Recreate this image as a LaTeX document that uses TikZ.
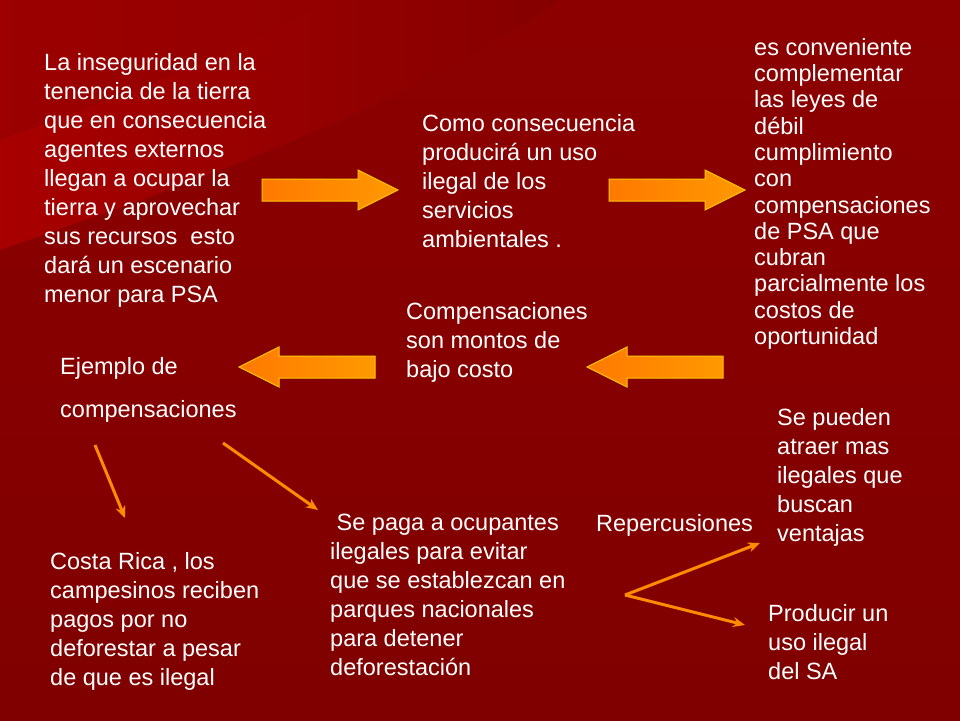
\documentclass[tikz,border=0pt]{standalone}
\usepackage{fontspec}
\setmainfont{Liberation Sans}
\usetikzlibrary{arrows.meta}
\begin{document}
\begin{tikzpicture}[x=1pt,y=-1pt,
  txt/.style={anchor=north west,inner sep=0pt,align=left,text=white,font=\fontsize{23.5}{29}\selectfont},
  blk/.style={draw=yellow!60!orange,line width=1pt,left color=orange!95!red,right color=orange!80!yellow},
  thin/.style={draw=orange!90!yellow,line width=3pt,-{Stealth[length=12pt,width=10pt]}}]
\useasboundingbox (0,0) rectangle (960,720);
\shade[top color=red!55!black,bottom color=red!50!black] (0,0) rectangle (960,720);
\shade[left color=red!66!black,right color=red!52!black] (0,0) -- (560,0) .. controls (400,110) and (200,180) .. (0,250) -- cycle;
\fill[red!58!black,opacity=0.6] (0,0) -- (330,0) .. controls (220,60) and (110,100) .. (0,140) -- cycle;

\node[txt] (t1) at (44,53) {La inseguridad en la\\tenencia de la tierra\\que en consecuencia\\agentes externos\\llegan a ocupar la\\tierra y aprovechar\\sus recursos\ \ esto\\dará un escenario\\menor para PSA};
\node[txt] (t2) at (422,114) {Como consecuencia\\producirá un uso\\ilegal de los\\servicios\\ambientales .};
\node[txt,font=\fontsize{23.5}{26.3}\selectfont] (t3) at (754,38) {es conveniente\\complementar\\las leyes de\\débil\\cumplimiento\\con\\compensaciones\\de PSA que\\cubran\\parcialmente los\\costos de\\oportunidad};
\node[txt] (t4) at (406,302) {Compensaciones\\son montos de\\bajo costo};
\node[txt,font=\fontsize{23.5}{43}\selectfont] (t5) at (60,357) {Ejemplo de\\compensaciones};
\node[txt] (t6) at (777,408) {Se pueden\\atraer mas\\ilegales que\\buscan\\ventajas};
\node[txt] (t7) at (330,514) {\ Se paga a ocupantes\\ilegales para evitar\\que se establezcan en\\parques nacionales\\para detener\\deforestación};
\node[txt] (t8) at (596,514) {Repercusiones};
\node[txt] (t9) at (50,552) {Costa Rica , los\\campesinos reciben\\pagos por no\\deforestar a pesar\\de que es ilegal};
\node[txt] (t10) at (768,604) {Producir un\\uso ilegal\\del SA};

\coordinate (a1) at (330,190);
\coordinate (a2) at (677,190);
\coordinate (a3) at (655,367);
\coordinate (a4) at (307,367);
\foreach \c/\s in {a1/1,a2/1,a3/-1,a4/-1}
  \path[blk,shift={(\c)},xscale=\s] (-68,-11) -- (28,-11) -- (28,-20) -- (68,0) -- (28,20) -- (28,11) -- (-68,11) -- cycle;

\coordinate (c1) at (95,445); \coordinate (d1) at (125,518);
\coordinate (c2) at (223,443); \coordinate (d2) at (318,510);
\coordinate (c3) at (625,595); \coordinate (d3) at (760,543); \coordinate (d4) at (745,625);
\draw[thin] (c1) -- (d1);
\draw[thin] (c2) -- (d2);
\draw[thin] (c3) -- (d3);
\draw[thin] (c3) -- (d4);
\end{tikzpicture}
\end{document}
